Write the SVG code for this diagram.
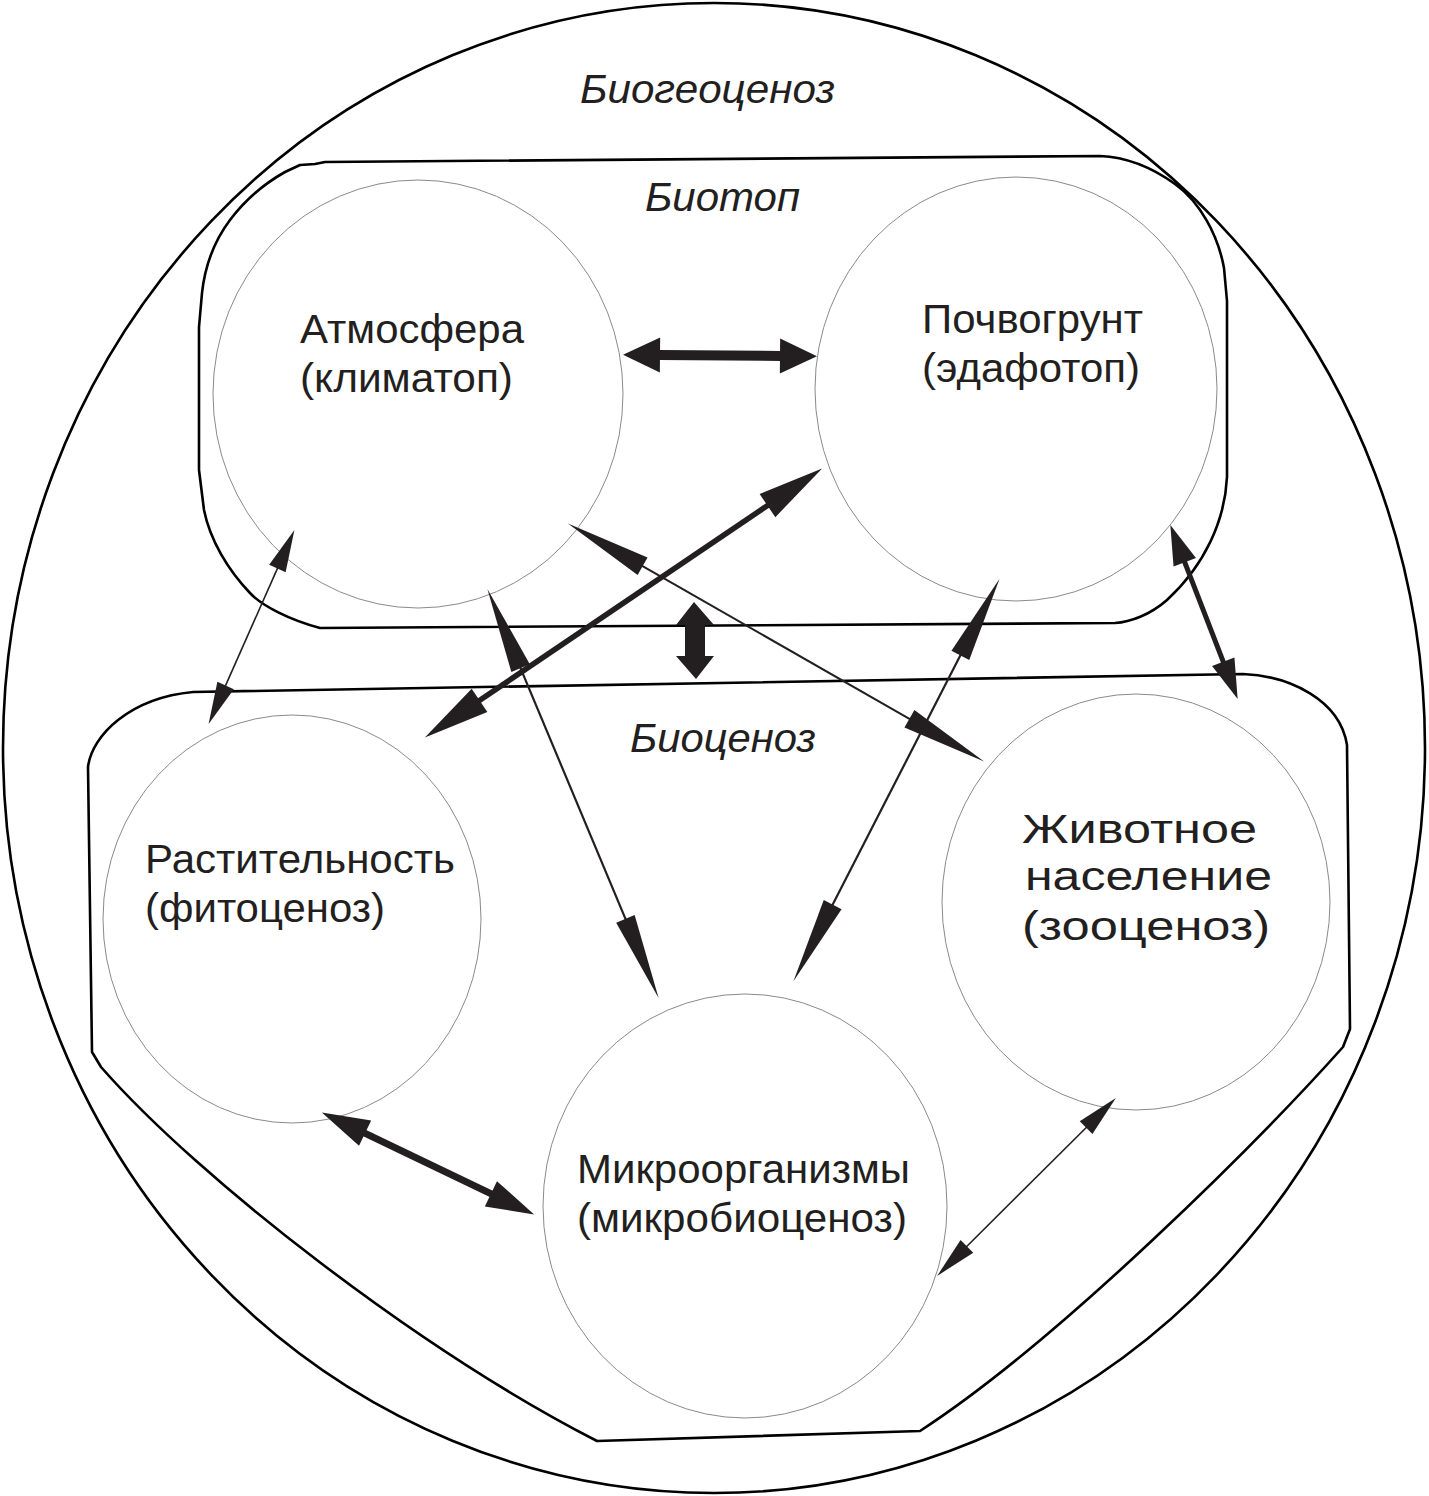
<svg xmlns="http://www.w3.org/2000/svg" width="1429" height="1496" viewBox="0 0 1429 1496">
<style>
  .bound { fill: none; stroke: #000; stroke-width: 2.6; stroke-linejoin: round; }
  .node { fill: none; stroke: #8a8a8a; stroke-width: 1; }
  .lbl { font-family: "Liberation Sans", Arial, sans-serif; font-size: 40px; fill: #231f20; }
  .it { font-style: italic; }
  .cn { stroke: #231f20; fill: none; }
  .hd { fill: #231f20; stroke: none; }
</style>
<defs>
  <marker id="h1" markerUnits="userSpaceOnUse" orient="auto-start-reverse" refX="1" refY="0" markerWidth="40" markerHeight="40" overflow="visible"><path class="hd" d="M0,-17.5 L37,0 L0,17.5 Z"/></marker>
  <marker id="h2" markerUnits="userSpaceOnUse" orient="auto-start-reverse" refX="1" refY="0" markerWidth="70" markerHeight="30" overflow="visible"><path class="hd" d="M0,-14 L66,0 L0,14 Z"/></marker>
  <marker id="h8" markerUnits="userSpaceOnUse" orient="auto-start-reverse" refX="1" refY="0" markerWidth="42" markerHeight="26" overflow="visible"><path class="hd" d="M0,-12 L40,0 L0,12 Z"/></marker>
  <marker id="h9" markerUnits="userSpaceOnUse" orient="auto-start-reverse" refX="1" refY="0" markerWidth="50" markerHeight="30" overflow="visible"><path class="hd" d="M0,-14 L48,0 L0,14 Z"/></marker>
  <marker id="hThin" markerUnits="userSpaceOnUse" orient="auto-start-reverse" refX="1" refY="0" markerWidth="88" markerHeight="22" overflow="visible"><path class="hd" d="M0,-10 L86,0 L0,10 Z"/></marker>
  <marker id="hSmall" markerUnits="userSpaceOnUse" orient="auto-start-reverse" refX="1" refY="0" markerWidth="44" markerHeight="20" overflow="visible"><path class="hd" d="M0,-9 L42,0 L0,9 Z"/></marker>
</defs>
<rect x="0" y="0" width="1429" height="1496" fill="#fff"/>

<g id="biogeocenosis">
  <ellipse class="bound" cx="714" cy="748" rx="711" ry="745"/>
  <text class="lbl it" x="580" y="103" textLength="255" lengthAdjust="spacingAndGlyphs">Биогеоценоз</text>
</g>

<g id="biotop">
  <path class="bound" stroke-width="3" d="M325,162 L1100,156 C1125,157 1150,166 1175,184 C1200,202 1218,235 1224,268 L1227,301 L1227,477 C1225,520 1205,565 1167,600 C1150,615 1130,622 1115,623 L320,628 C290,620 262,606 250,593 C228,570 210,540 204,510 L199,470 L199,327 L202,293 C205,265 215,240 230,220 C245,200 262,185 285,172 L300,165 L315,164 Z"/>
  <text class="lbl it" x="645" y="211" textLength="155" lengthAdjust="spacingAndGlyphs">Биотоп</text>
</g>

<g id="biocenosis">
  <path class="bound" d="M193,692 L1243,674 C1290,676 1340,700 1347,745 L1350,1029 L1343,1047 C1260,1140 1060,1340 920,1431 L597,1441 C420,1350 200,1180 101,1067 L92,1052 L88,767 C92,735 130,698 193,692 Z"/>
  <text class="lbl it" x="630" y="752" textLength="186" lengthAdjust="spacingAndGlyphs">Биоценоз</text>
</g>

<g id="atmosphere">
  <ellipse class="node" cx="418" cy="394" rx="205" ry="214"/>
  <text class="lbl" x="300" y="343" textLength="224" lengthAdjust="spacingAndGlyphs">Атмосфера</text>
  <text class="lbl" x="300" y="392" textLength="213" lengthAdjust="spacingAndGlyphs">(климатоп)</text>
</g>

<g id="soil">
  <ellipse class="node" cx="1016" cy="389" rx="201" ry="212"/>
  <text class="lbl" x="922" y="333" textLength="221" lengthAdjust="spacingAndGlyphs">Почвогрунт</text>
  <text class="lbl" x="922" y="382" textLength="218" lengthAdjust="spacingAndGlyphs">(эдафотоп)</text>
</g>

<g id="vegetation">
  <ellipse class="node" cx="292" cy="919" rx="189" ry="204"/>
  <text class="lbl" x="145" y="873" textLength="310" lengthAdjust="spacingAndGlyphs">Растительность</text>
  <text class="lbl" x="145" y="922" textLength="240" lengthAdjust="spacingAndGlyphs">(фитоценоз)</text>
</g>

<g id="animals">
  <ellipse class="node" cx="1136" cy="902" rx="194" ry="208"/>
  <text class="lbl" x="1022" y="843" textLength="235" lengthAdjust="spacingAndGlyphs">Животное</text>
  <text class="lbl" x="1025" y="890" textLength="247" lengthAdjust="spacingAndGlyphs">население</text>
  <text class="lbl" x="1022" y="940" textLength="248" lengthAdjust="spacingAndGlyphs">(зооценоз)</text>
</g>

<g id="microorganisms">
  <ellipse class="node" cx="745" cy="1206" rx="202" ry="212"/>
  <text class="lbl" x="577" y="1183" textLength="333" lengthAdjust="spacingAndGlyphs">Микроорганизмы</text>
  <text class="lbl" x="577" y="1232" textLength="330" lengthAdjust="spacingAndGlyphs">(микробиоценоз)</text>
</g>

<g id="connectors">
  <line class="cn" x1="659" y1="355" x2="781" y2="356" stroke-width="10" marker-start="url(#h1)" marker-end="url(#h1)"/>
  <line class="cn" x1="768.3" y1="505" x2="478.7" y2="701" stroke-width="5.5" marker-start="url(#h2)" marker-end="url(#h2)"/>
  <line class="cn" x1="641.7" y1="565.7" x2="910.3" y2="719.3" stroke-width="2" marker-start="url(#hThin)" marker-end="url(#hThin)"/>
  <line class="cn" x1="520.2" y1="667.3" x2="625.8" y2="919.7" stroke-width="2.2" marker-start="url(#hThin)" marker-end="url(#hThin)"/>
  <line class="cn" x1="960.8" y1="654.5" x2="832.2" y2="905.5" stroke-width="2.2" marker-start="url(#hThin)" marker-end="url(#hThin)"/>
  <line class="cn" x1="277.8" y1="567.6" x2="225.2" y2="686.4" stroke-width="1.6" marker-start="url(#hSmall)" marker-end="url(#hSmall)"/>
  <line class="cn" x1="1184.4" y1="561.3" x2="1223.6" y2="662.7" stroke-width="5" marker-start="url(#h8)" marker-end="url(#h8)"/>
  <line class="cn" x1="364.2" y1="1132.8" x2="491.8" y2="1194.2" stroke-width="7" marker-start="url(#h9)" marker-end="url(#h9)"/>
  <line class="cn" x1="1086.8" y1="1127" x2="966.2" y2="1247" stroke-width="1.6" marker-start="url(#hSmall)" marker-end="url(#hSmall)"/>
  <path class="hd" d="M694,602 L714,625 L705,625 L705,656 L714,656 L696,679 L676,656 L685,656 L685,625 L676,625 Z"/>
</g>
</svg>
